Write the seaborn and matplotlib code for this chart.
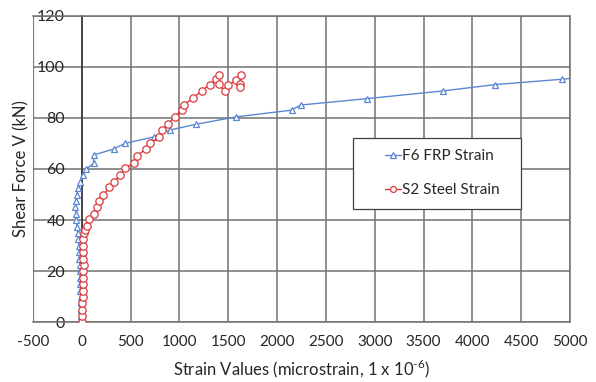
import matplotlib
matplotlib.use("Agg")
import matplotlib.pyplot as plt
from matplotlib.patches import Rectangle
import seaborn as sns
import pandas as pd

# ---- data ----
frp_strain = [0, -5, -8, -10, -12, -14, -16, -18, -20, -22, -25, -28, -32, -36,
              -42, -50, -58, -62, -66, -62, -52, -40, -15, 12, 45, 121, 121, 327,
              440, 744, 898, 1172, 1583, 2148, 2240, 2918, 3694, 4235, 4920, 5600]
frp_shear = [0, 2.5, 5, 7.5, 10, 12.5, 15, 17.5, 20, 22.5, 25, 27.5, 30, 32.5,
             35, 37.5, 40, 42.5, 45, 47.5, 50, 52.5, 55, 57.5, 60, 62.2, 65.5, 67.8,
             70, 72.6, 75.2, 77.5, 80.4, 83, 85, 87.5, 90.5, 93, 95.1, 97.5]

steel_strain = [0, 0, 3, 5, 8, 10, 10, 13, 15, 18, 15, 10, 10, 15, 18, 33, 50, 70,
                128, 156, 180, 217, 282, 334, 389, 440, 532, 563, 659, 703, 789,
                823, 881, 950, 1021, 1045, 1134, 1230, 1309, 1378, 1403, 1403,
                1463, 1497, 1583, 1634, 1617, 1624]
steel_shear = [0, 2.5, 5, 7.5, 10, 12.5, 15, 17.5, 20, 22.5, 25, 27.5, 30, 32.5,
               35, 36.1, 37.8, 40.4, 42.5, 45.2, 47.6, 49.8, 52.8, 55.1, 57.5,
               60.3, 62.4, 65.2, 67.8, 70, 72.6, 75.2, 77.5, 80.4, 83, 85, 87.6,
               90.6, 93, 95, 96.7, 93.2, 90.4, 92.8, 94.7, 96.9, 93.4, 92.1]

series_labels = ["F6 FRP Strain", "S2 Steel Strain"]
x_ticks = list(range(-500, 5001, 500))
y_ticks = list(range(0, 121, 20))
x_title = "Strain Values (microstrain, 1 x 10$^{\\mathregular{\u20106}}$)"
y_title = "Shear Force V (kN)"

frp = pd.DataFrame({"strain": frp_strain, "shear": frp_shear})
steel = pd.DataFrame({"strain": steel_strain, "shear": steel_shear})

# ---- style ----
sns.set_style("white")
plt.rcParams["font.family"] = ["Lato", "DejaVu Sans"]
plt.rcParams["mathtext.fontset"] = "custom"
plt.rcParams["mathtext.rm"] = "Lato"
plt.rcParams["axes.unicode_minus"] = False

blue = "#5B86D1"
red = "#DA3A3E"
grid_c = "#727272"

fig = plt.figure(figsize=(5.96, 3.82), dpi=100)
ax = fig.add_axes([0.0554, 0.1558, 0.9010, 0.8036])

sns.lineplot(data=frp, x="strain", y="shear", sort=False, estimator=None,
             color=blue, linewidth=1.0, marker="^", markersize=5,
             markerfacecolor="white", markeredgecolor=blue, markeredgewidth=0.9,
             label=series_labels[0], ax=ax, zorder=3, legend=False)
sns.lineplot(data=steel, x="strain", y="shear", sort=False, estimator=None,
             color=red, linewidth=1.0, marker="o", markersize=5.3,
             markerfacecolor="white", markeredgecolor=red, markeredgewidth=0.9,
             label=series_labels[1], ax=ax, zorder=3, legend=False)

ax.set_xlim(-500, 5000)
ax.set_ylim(0, 120)
ax.set_xticks(x_ticks)
ax.set_yticks(y_ticks)
ax.grid(True, color=grid_c, linewidth=1.1)
ax.set_axisbelow(True)

ax.spines["left"].set_position(("data", 0))
ax.spines["left"].set_color("#333333")
ax.spines["left"].set_linewidth(1.1)
for s in ["bottom", "top", "right"]:
    ax.spines[s].set_color(grid_c)
    ax.spines[s].set_linewidth(1.1)
# left border at -500 drawn as the grid line
ax.axvline(-500, color="#a6a6a6", linewidth=1.0, zorder=0.5)

ax.tick_params(axis="y", length=0, pad=12, labelsize=11.5, colors="#262626")
ax.tick_params(axis="x", length=0, pad=9, labelsize=11, colors="#262626")

ax.set_xlabel(x_title, fontsize=12, color="#262626", labelpad=6)
ax.set_ylabel(y_title, fontsize=12, color="#262626")
ax.yaxis.set_label_coords(-0.006, 0.5)

# legend box
ax.add_patch(Rectangle((0.5953, 0.3697), 0.3135, 0.2313, transform=ax.transAxes,
                       facecolor="white", edgecolor="#404040", linewidth=0.9,
                       zorder=4))
leg = ax.legend(loc="center left", bbox_to_anchor=(0.642, 0.486), frameon=False,
                fontsize=11, handlelength=1.0, handletextpad=0.1, borderpad=0,
                labelspacing=1.3, markerscale=0.8)
leg.set_zorder(5)
for t in leg.get_texts():
    t.set_color("#262626")

fig.savefig("out.png", dpi=100)
